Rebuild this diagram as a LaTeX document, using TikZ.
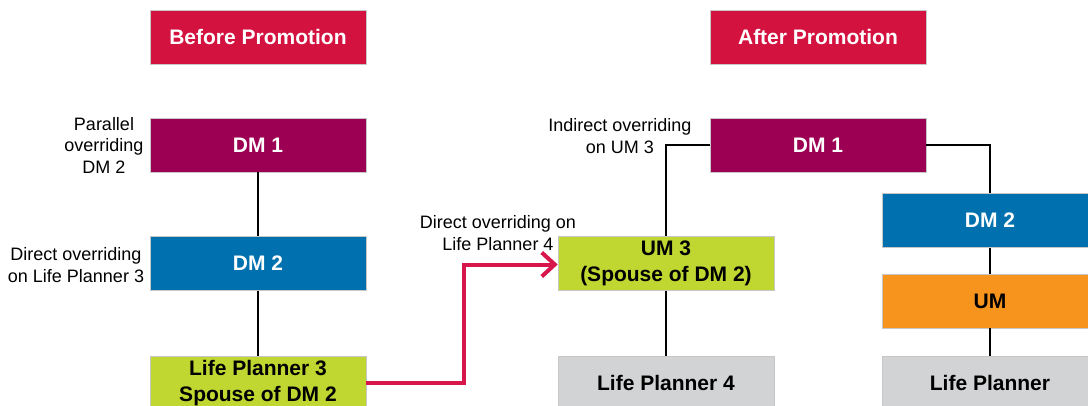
\documentclass[tikz,border=0pt]{standalone}
\usepackage{fontspec}
\setmainfont{Liberation Sans}
\usetikzlibrary{arrows.meta}
\definecolor{titlered}{HTML}{D4123F}
\definecolor{dmone}{HTML}{9C0052}
\definecolor{dmtwo}{HTML}{0071AE}
\definecolor{limegreen}{HTML}{BFD730}
\definecolor{umorange}{HTML}{F7941E}
\definecolor{lpgray}{HTML}{D1D3D4}
\definecolor{arrowred}{HTML}{D7174B}
\begin{document}
\begin{tikzpicture}[x=1pt,y=-1pt,
  box/.style={minimum width=216pt, minimum height=54pt, inner sep=0pt, align=center,
    font=\fontsize{21}{25.5}\selectfont\bfseries, draw=black!22, line width=0.6pt},
  whitebox/.style={box, text=white},
  darkbox/.style={box, text=black},
  note/.style={font=\fontsize{18}{21.5}\selectfont, align=center, inner sep=0pt},
  link/.style={line width=2pt, black},
  promo/.style={line width=4pt, arrowred, -{Straight Barb[length=13pt,width=24pt]}}]
\useasboundingbox (0,0) rectangle (1088,405);
\clip (0,0) rectangle (1088,405);

% headings
\node[whitebox, fill=titlered] (before) at (258,37) {Before Promotion};
\node[whitebox, fill=titlered] (after) at (818,37) {After Promotion};

% before promotion
\node[whitebox, fill=dmone] (dm1a) at (258,145) {DM 1};
\node[whitebox, fill=dmtwo] (dm2a) at (258,263.5) {DM 2};
\node[darkbox, fill=limegreen] (lp3) at (258,383) {Life Planner 3\\Spouse of DM 2};

% after promotion
\node[whitebox, fill=dmone] (dm1b) at (818,145) {DM 1};
\node[darkbox, fill=limegreen] (um3) at (666,263.5) {UM 3\\(Spouse of DM 2)};
\node[darkbox, fill=lpgray] (lp4) at (666,383) {Life Planner 4};
\node[whitebox, fill=dmtwo] (dm2b) at (990,220.5) {DM 2};
\node[darkbox, fill=umorange] (umb) at (990,301) {UM};
\node[darkbox, fill=lpgray] (lpb) at (990,383) {Life Planner};

% notes
\node[note] (n1) at (104,145) {Parallel\\overriding\\DM 2};
\node[note] (n2) at (76,265) {Direct overriding\\on Life Planner 3};
\node[note] (n3) at (620,136) {Indirect overriding\\on UM 3};
\node[note] (n4) at (498,233) {Direct overriding on\\Life Planner 4};

% reporting lines
\draw[link] (dm1a) -- (dm2a);
\draw[link] (dm2a) -- (lp3);
\draw[link] (dm1b.west) -| (um3.north);
\draw[link] (um3) -- (lp4);
\draw[link] (dm1b.east) -| (dm2b.north);
\draw[link] (dm2b) -- (umb);
\draw[link] (umb) -- (lpb);

% promotion move
\coordinate (turn) at (464,264.5);
\draw[promo] (lp3.east) -| (turn) -- (um3.west |- turn);
\end{tikzpicture}
\end{document}
